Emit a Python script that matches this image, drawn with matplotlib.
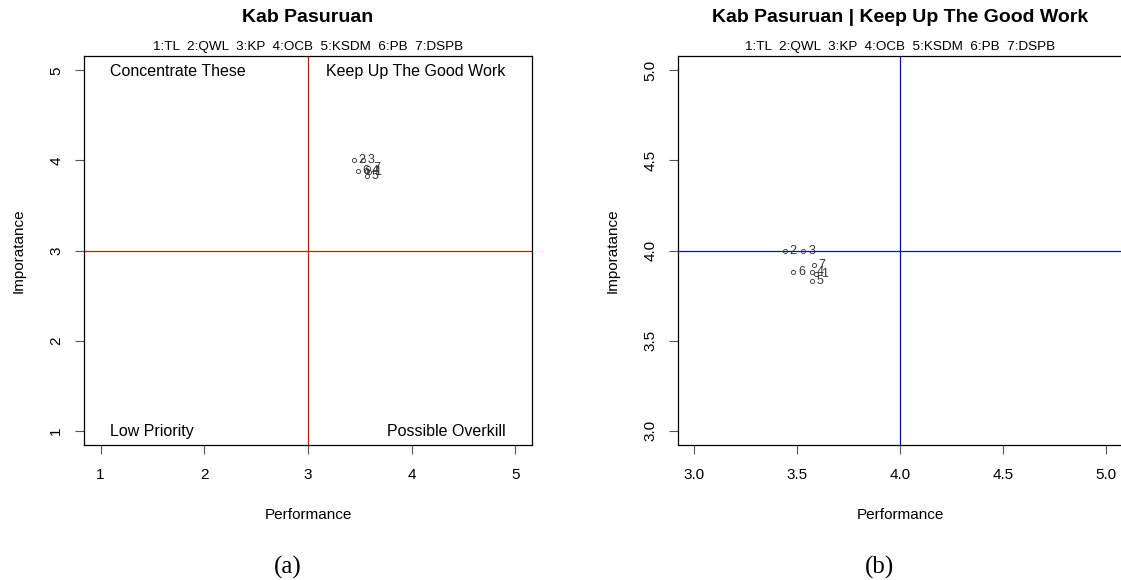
import matplotlib
matplotlib.use("Agg")
import matplotlib.pyplot as plt

plt.rcParams['font.family'] = ['Liberation Sans', 'DejaVu Sans']

# attribute scores (performance, importance)
codes = ['1', '2', '3', '4', '5', '6', '7']
names = ['TL', 'QWL', 'KP', 'OCB', 'KSDM', 'PB', 'DSPB']
performance = [3.59, 3.44, 3.53, 3.57, 3.57, 3.48, 3.58]
importance = [3.87, 4.00, 4.00, 3.88, 3.83, 3.88, 3.92]

title_a = 'Kab Pasuruan'
title_b = 'Kab Pasuruan | Keep Up The Good Work'
legend_txt = '  '.join(c + ':' + n for c, n in zip(codes, names))
quadrants = ['Concentrate These', 'Keep Up The Good Work', 'Low Priority', 'Possible Overkill']
ticks_a = [1, 2, 3, 4, 5]
ticks_b = [3.0, 3.5, 4.0, 4.5, 5.0]

W, H = 1121, 580
fig = plt.figure(figsize=(W / 100, H / 100), dpi=100)


def px_axes(l, t, r, b):
    return fig.add_axes([l / W, 1 - b / H, (r - l) / W, (b - t) / H])


def style(ax, ticks, fmt):
    lo, hi = ticks[0], ticks[-1]
    pad = (hi - lo) * 0.04
    ax.set_xlim(lo - pad, hi + pad)
    ax.set_ylim(lo - pad, hi + pad)
    ax.set_xticks(ticks)
    ax.set_yticks(ticks)
    ax.set_xticklabels([fmt % t for t in ticks])
    ax.set_yticklabels([fmt % t for t in ticks], rotation=90, va='center')
    ax.tick_params(direction='out', length=6.5, width=0.8, color='#555555',
                   labelsize=11, pad=8.5)
    ax.tick_params(axis='x', pad=10)
    for s in ax.spines.values():
        s.set_linewidth(0.9)
    ax.set_xlabel('Performance', fontsize=11, labelpad=19)
    ax.set_ylabel('Imporatance', fontsize=11, labelpad=17)


def points(ax):
    ax.plot(performance, importance, 'o', ms=3, mfc='none', mec='#333333', mew=0.6)
    for c, x, y in zip(codes, performance, importance):
        ax.annotate(c, (x, y), xytext=(3.5, 0), textcoords='offset points',
                    ha='left', va='center', fontsize=9, color='#333333')


def titles(ax, title):
    ax.annotate(title, (0.5, 1), xycoords='axes fraction', xytext=(0, 27.5),
                textcoords='offset points', ha='center', va='center',
                fontsize=14, fontweight='bold')
    ax.annotate(legend_txt, (0.5, 1), xycoords='axes fraction', xytext=(0, 6.5),
                textcoords='offset points', ha='center', va='center', fontsize=9.7)


# (a) full grid
ax1 = px_axes(84, 56, 532, 445)
style(ax1, ticks_a, '%d')
ax1.axvline(3, color='red', lw=0.9)
ax1.axhline(3, color='red', lw=0.9)
pos = [(1, 5, 'left', 7), (5, 5, 'right', -7), (1, 1, 'left', 7), (5, 1, 'right', -7)]
for q, (x, y, ha, dx) in zip(quadrants, pos):
    ax1.annotate(q, (x, y), xytext=(dx, -1), textcoords='offset points',
                 ha=ha, va='center', fontsize=11.5)
points(ax1)
titles(ax1, title_a)

# (b) zoomed quadrant
ax2 = px_axes(678, 56, 1122, 445)
style(ax2, ticks_b, '%.1f')
ax2.axvline(4, color='blue', lw=0.9)
ax2.axhline(4, color='blue', lw=0.9)
points(ax2)
titles(ax2, title_b)

fig.text(288 / W, 1 - 567 / H, '(a)', family='Liberation Serif', fontsize=18,
         ha='center', va='center')
fig.text(880 / W, 1 - 567 / H, '(b)', family='Liberation Serif', fontsize=18,
         ha='center', va='center')

fig.savefig('out.png', dpi=100)
